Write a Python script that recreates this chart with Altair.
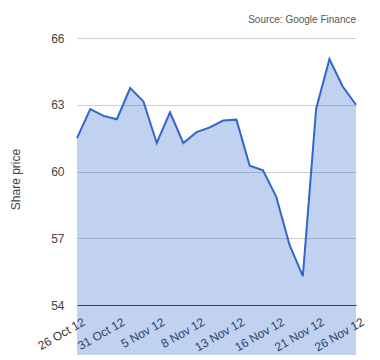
import altair as alt
import pandas as pd

dates = ["26 Oct 12", "29 Oct 12", "30 Oct 12", "31 Oct 12", "1 Nov 12", "2 Nov 12",
         "5 Nov 12", "6 Nov 12", "7 Nov 12", "8 Nov 12", "9 Nov 12", "12 Nov 12",
         "13 Nov 12", "14 Nov 12", "15 Nov 12", "16 Nov 12", "19 Nov 12", "20 Nov 12",
         "21 Nov 12", "22 Nov 12", "23 Nov 12", "26 Nov 12"]
price = [61.5, 62.8, 62.5, 62.35, 63.75, 63.15, 61.28, 62.66, 61.28, 61.77, 61.98,
         62.29, 62.33, 60.26, 60.05, 58.86, 56.7, 55.3, 62.82, 65.05, 63.82, 63.0]
tick_labels = dates[::3]
y_ticks = [54, 57, 60, 63, 66]

df = pd.DataFrame({"date": dates, "price": price})

FONT = "Liberation Sans"

chart = alt.Chart(df).mark_area(
    color="#3366cc", opacity=0.3, line={"color": "#3366cc", "strokeWidth": 2, "opacity": 1}
).encode(
    x=alt.X("date:O", sort=dates, scale=alt.Scale(type="point", padding=0),
            axis=alt.Axis(values=tick_labels, labelAngle=-30, labelAlign="right",
                          labelBaseline="top", labelOffset=4, labelPadding=11,
                          title=None, ticks=False,
                          domainColor="#333333", domainWidth=1,
                          labelFontSize=12, labelColor="#333333", labelFont=FONT, grid=False)),
    y=alt.Y("price:Q", scale=alt.Scale(domain=[54, 66], nice=False, zero=False),
            axis=alt.Axis(values=y_ticks, title="Share price", domain=False, ticks=False,
                          gridColor="#cccccc", labelPadding=13, labelFontSize=12,
                          labelColor="#444444", labelFont=FONT, titleFont=FONT,
                          titleFontSize=12, titleFontWeight="normal", titleColor="#444444",
                          titlePadding=28, titleY=141)),
).properties(
    width=279, height=267,
    autosize=alt.AutoSizeParams(type="none"),
    padding={"left": 69, "top": 30, "right": 16, "bottom": 50},
    title=alt.TitleParams("Source: Google Finance", anchor="end", frame="group",
                          fontSize=10, font=FONT, fontWeight="normal", color="#555555",
                          offset=7),
).configure_view(stroke=None)

chart.save("out.html", embed_options={"renderer": "svg", "actions": False})
